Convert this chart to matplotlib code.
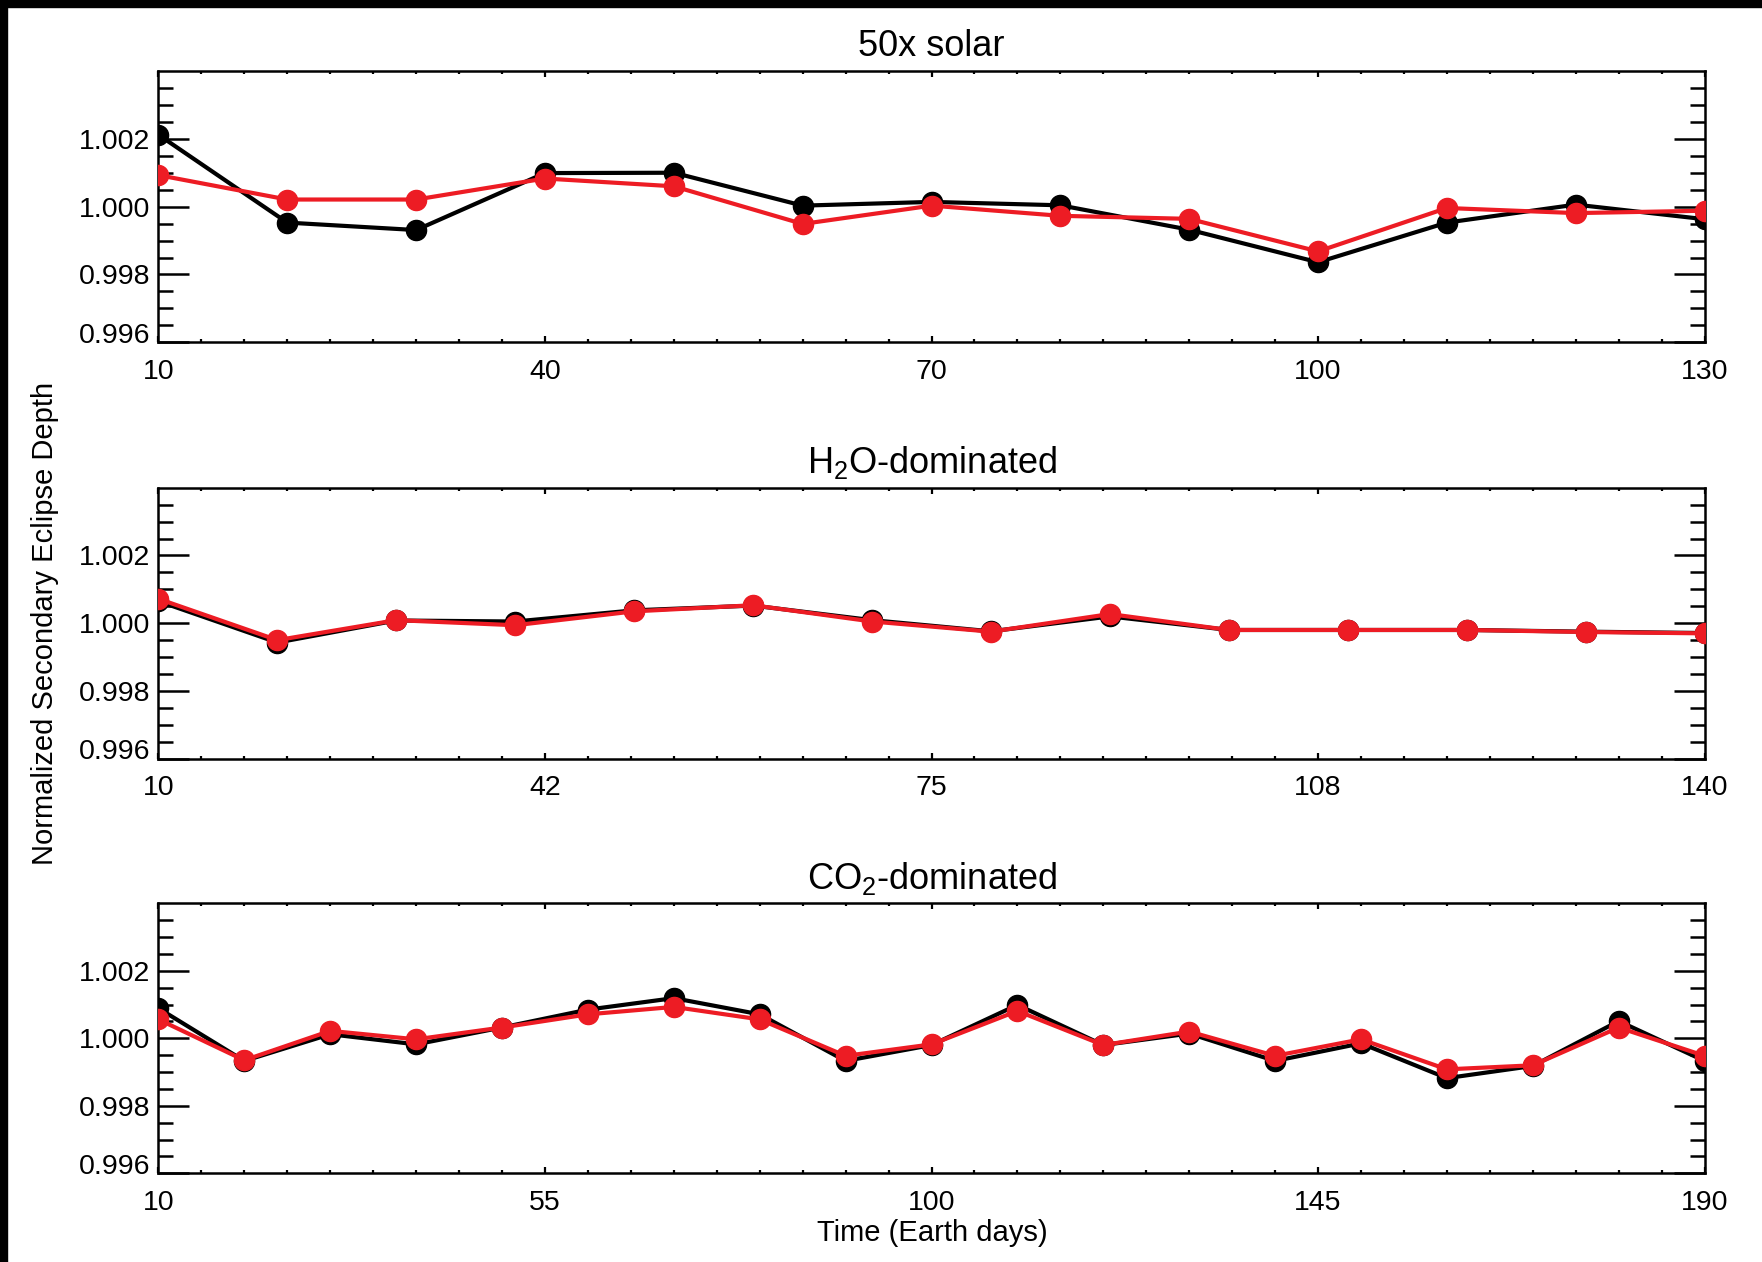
import numpy as np
import matplotlib
matplotlib.use("Agg")
import matplotlib.pyplot as plt
from matplotlib.ticker import FixedLocator, FixedFormatter, AutoMinorLocator
from matplotlib.patches import Rectangle
from matplotlib.transforms import ScaledTranslation

plt.rcParams['font.family'] = ['Liberation Sans', 'DejaVu Sans']
plt.rcParams['mathtext.default'] = 'regular'

# ---------------- data ----------------
titles = ["50x solar", "H$_2$O-dominated", "CO$_2$-dominated"]

days_solar = [10, 20, 30, 40, 50, 60, 70, 80, 90, 100, 110, 120, 130]
solar_black = [1.00212, 0.99953, 0.99931, 1.00099, 1.00100, 1.00003, 1.00014, 1.00004,
               0.99932, 0.99836, 0.99953, 1.00006, 0.99963]
solar_red = [1.00093, 1.00021, 1.00021, 1.00083, 1.00060, 0.99949, 1.00003, 0.99973,
             0.99964, 0.99868, 0.99996, 0.99981, 0.99988]

days_h2o = [10, 20, 30, 40, 50, 60, 70, 80, 90, 100, 110, 120, 130, 140]
h2o_black = [1.00065, 0.99943, 1.00008, 1.00005, 1.00038, 1.00052, 1.00009, 0.99976,
             1.00020, 0.99980, 0.99980, 0.99980, 0.99975, 0.99971]
h2o_red = [1.00072, 0.99950, 1.00009, 0.99994, 1.00035, 1.00053, 1.00005, 0.99975,
           1.00027, 0.99980, 0.99980, 0.99980, 0.99974, 0.99970]

days_co2 = [10, 20, 30, 40, 50, 60, 70, 80, 90, 100, 110, 120, 130, 140, 150, 160,
            170, 180, 190]
co2_black = [1.00089, 0.99933, 1.00012, 0.99982, 1.00032, 1.00085, 1.00119, 1.00071,
             0.99933, 0.99980, 1.00099, 0.99980, 1.00014, 0.99933, 0.99985, 0.99882,
             0.99918, 1.00051, 0.99933]
co2_red = [1.00056, 0.99935, 1.00022, 0.99997, 1.00032, 1.00071, 1.00093, 1.00056,
           0.99948, 0.99982, 1.00081, 0.99980, 1.00020, 0.99948, 0.99997, 0.99908,
           0.99920, 1.00032, 0.99948]

xlims = [(10, 130), (10, 140), (10, 190)]
xtick_labels = [["10", "40", "70", "100", "130"],
                ["10", "42", "75", "108", "140"],
                ["10", "55", "100", "145", "190"]]
ytick_values = [0.996, 0.998, 1.000, 1.002]
ytick_labels = ["0.996", "0.998", "1.000", "1.002"]
ylim = (0.996, 1.004)

xlabel = "Time (Earth days)"
ylabel = "Normalized Secondary Eclipse Depth"

series = [(days_solar, solar_black, solar_red),
          (days_h2o, h2o_black, h2o_red),
          (days_co2, co2_black, co2_red)]

# ---------------- figure ----------------
W, H = 1762, 1262
fig = plt.figure(figsize=(W / 100, H / 100), dpi=100)

left = 158.4 / W
width = 1546.2 / W
tops = [71.0, 487.7, 903.3]
heights = [271.3, 271.0, 270.0]

RED = '#ED1C24'

for i, (days, blk, red) in enumerate(series):
    top = tops[i]
    h = heights[i]
    ax = fig.add_axes([left, 1 - (top + h) / H, width, h / H])
    ax.plot(days, blk, color='black', lw=3.0, marker='o', ms=14.5, mec='black',
            mfc='black', zorder=3)
    ax.plot(days, red, color=RED, lw=3.0, marker='o', ms=14.5, mec=RED,
            mfc=RED, zorder=4)
    ax.set_xlim(*xlims[i])
    ax.set_ylim(*ylim)

    xmaj = np.linspace(xlims[i][0], xlims[i][1], 5)
    ax.xaxis.set_major_locator(FixedLocator(xmaj))
    ax.xaxis.set_major_formatter(FixedFormatter(xtick_labels[i]))
    ax.xaxis.set_minor_locator(AutoMinorLocator(9))

    ax.yaxis.set_major_locator(FixedLocator(ytick_values))
    ax.yaxis.set_major_formatter(FixedFormatter(ytick_labels))
    ymin_ticks = [v for v in np.arange(0.9965, 1.00375, 0.0005)
                  if min(abs(v - t) for t in ytick_values) > 1e-7]
    ax.yaxis.set_minor_locator(FixedLocator(ymin_ticks))

    ax.tick_params(axis='x', which='major', direction='in', length=4.2, width=1.6,
                   top=True, bottom=True, labelsize=20.5, pad=12)
    ax.tick_params(axis='x', which='minor', direction='in', length=2.0, width=1.6,
                   top=True, bottom=True)
    ax.tick_params(axis='y', which='major', direction='in', length=22, width=1.8,
                   left=True, right=True, labelsize=20.5, pad=6)
    ax.tick_params(axis='y', which='minor', direction='in', length=11, width=1.8,
                   left=True, right=True)
    for s in ax.spines.values():
        s.set_linewidth(1.8)

    # lowest label sits just above the bottom axis, as in the original
    fig.canvas.draw()
    lbls = ax.get_yticklabels()
    if lbls:
        lbls[0].set_transform(lbls[0].get_transform() +
                              ScaledTranslation(0, 9.5 / 100, fig.dpi_scale_trans))

    ax.set_title(titles[i], fontsize=26, pad=10.5)

fig.text(45 / W, 1 - 623 / H, ylabel, rotation=90, ha='center', va='center',
         fontsize=21)
fig.text(932 / W, 1 - 1233 / H, xlabel, ha='center', va='center', fontsize=21)

# black frame strips on the top and left edges
fig.patches.append(Rectangle((0, 1 - 7 / H), 1, 7 / H, transform=fig.transFigure,
                             color='black', zorder=10))
fig.patches.append(Rectangle((0, 0), 7 / W, 1, transform=fig.transFigure,
                             color='black', zorder=10))

fig.savefig("out.png", dpi=100)
